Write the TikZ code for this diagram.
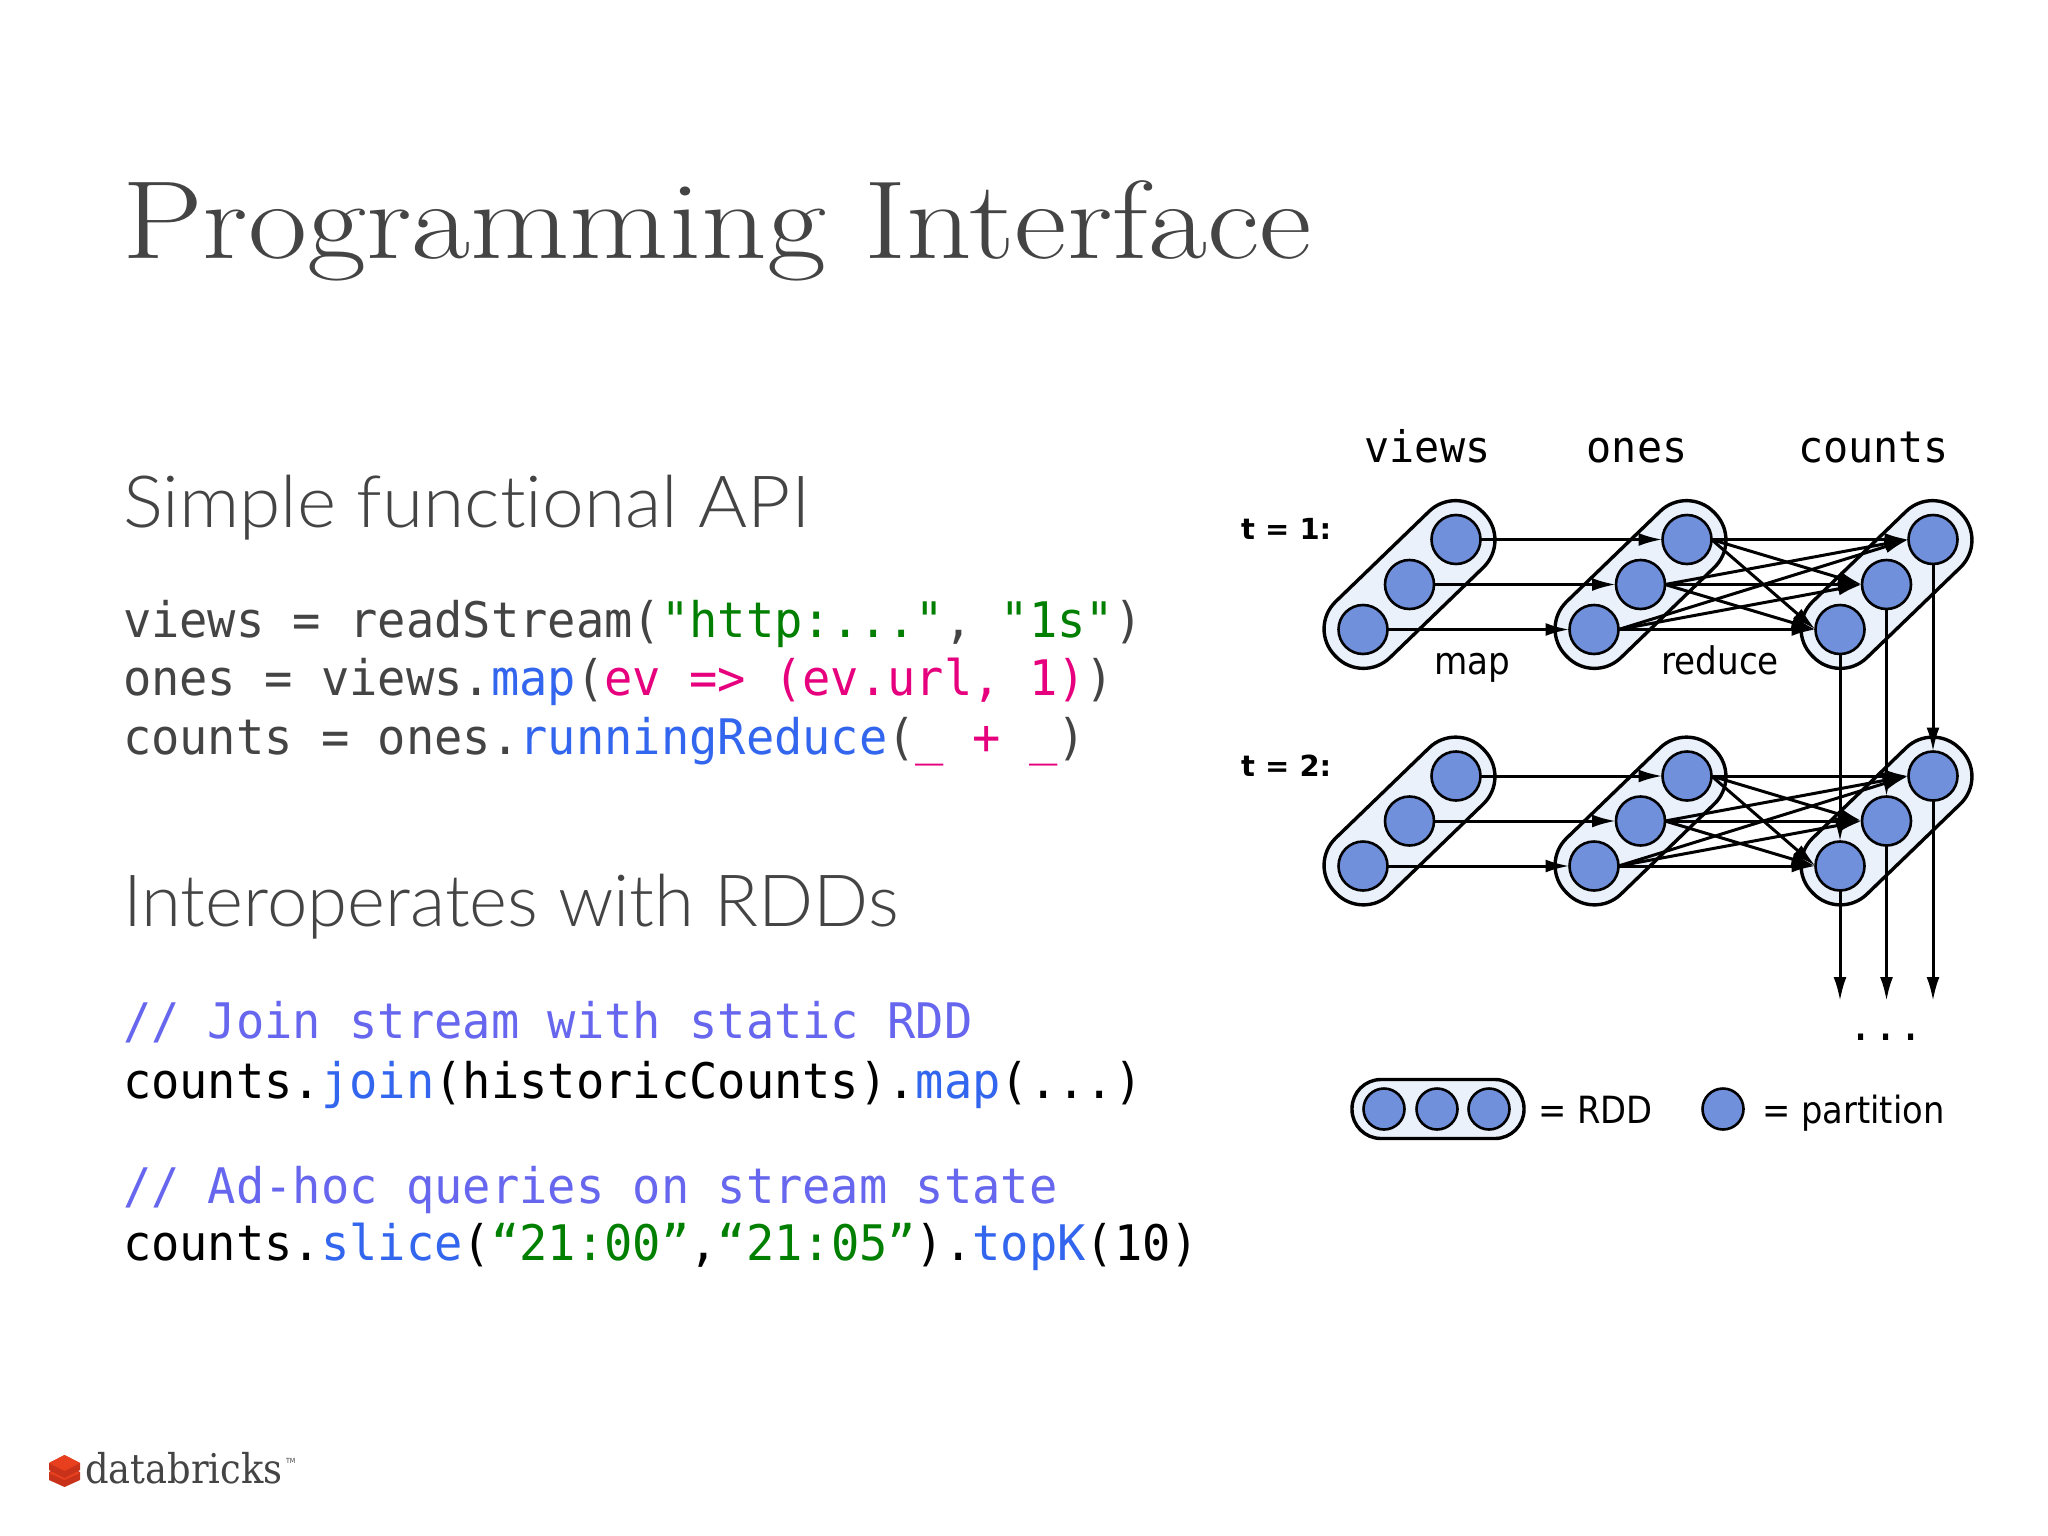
\documentclass[tikz,border=0pt]{standalone}
\usepackage{fontspec}
\usetikzlibrary{arrows.meta,calc}
\setmonofont[FakeStretch=0.96]{DejaVu Sans Mono}
\newfontfamily\headf[Ligatures=NoCommon,FakeStretch=1.02]{Lato Light}
\newfontfamily\dvs[FakeStretch=0.9]{DejaVu Sans}
\newfontfamily\dvsb{DejaVu Sans Bold}
\newfontfamily\logof[FakeStretch=0.9]{DejaVu Serif}
\definecolor{txt}{HTML}{444444}
\definecolor{cgreen}{HTML}{007F00}
\definecolor{cpink}{HTML}{E6007E}
\definecolor{cblue}{HTML}{3366EE}
\definecolor{ccomm}{HTML}{6666EE}
\definecolor{part}{HTML}{7090DC}
\definecolor{pillf}{HTML}{EAF1FA}
\definecolor{brickt}{HTML}{E8401F}
\definecolor{brickd}{HTML}{C8321A}
\newcommand{\fs}[1]{\fontsize{#1}{#1}\selectfont}
\newcommand{\grn}[1]{\textcolor{cgreen}{#1}}
\newcommand{\pnk}[1]{\textcolor{cpink}{#1}}
\newcommand{\blu}[1]{\textcolor{cblue}{#1}}
\tikzset{
  x=1pt,y=-1pt,
  txtnode/.style={anchor=base west,inner sep=0,outer sep=0,text=txt},
  titlenode/.style={txtnode,font=\rmfamily\fs{111}},
  headnode/.style={txtnode,font=\headf\fs{72}},
  codenode/.style={txtnode,font=\ttfamily\fs{49}},
  blacknode/.style={codenode,text=black},
  commnode/.style={codenode,text=ccomm},
  collabel/.style={anchor=base,inner sep=0,text=black,font=\ttfamily\fs{43.5}},
  oplabel/.style={anchor=base,inner sep=0,text=black,font=\dvs\fs{38}},
  tlabel/.style={anchor=base west,inner sep=0,text=black,font=\dvsb\fs{29}},
  legendlabel/.style={anchor=base west,inner sep=0,text=black,font=\dvs\fs{37.5}},
  partn/.style={circle,draw=black,line width=2.6pt,fill=part,minimum size=49pt,inner sep=0,outer sep=0},
  smallpart/.style={partn,minimum size=41pt},
  pilln/.style={rectangle,draw=black,line width=3.4pt,fill=pillf,rounded corners=38pt,minimum width=206pt,minimum height=78pt,rotate=44,inner sep=0},
  legpill/.style={rectangle,draw=black,line width=3.4pt,fill=pillf,rounded corners=29pt,minimum width=172pt,minimum height=59pt,inner sep=0},
  flow/.style={line width=3pt,-{Latex[length=24pt,width=13pt]}},
}
\begin{document}
\begin{tikzpicture}
\useasboundingbox (0,0) rectangle (2048,1536);
\fill[white] (0,0) rectangle (2048,1536);
\node[titlenode] (title) at (122,258) {\scalebox{1.158}[1]{Programming Interface}};
\node[headnode] (h1) at (123,527) {\scalebox{1.02}[1]{Simple functional API}};
\node[headnode] (h2) at (123,926) {\scalebox{0.988}[1]{Interoperates with RDDs}};
\node[codenode] (c1) at (123,637.5) {views = readStream(\grn{"http:..."}, \grn{"1s"})};
\node[codenode] (c2) at (123,695.5) {ones = views.\blu{map}(\pnk{ev => (ev.url, 1)})};
\node[codenode] (c3) at (123,754.5) {counts = ones.\blu{runningReduce}(\pnk{\_ + \_})};
\node[commnode] (c4) at (123,1038.5) {// Join stream with static RDD};
\node[blacknode] (c5) at (123,1098.5) {counts.\blu{join}(historicCounts).\blu{map}(...)};
\node[commnode] (c6) at (123,1203) {// Ad-hoc queries on stream state};
\node[blacknode] (c7) at (123,1260.5) {counts.\blu{slice}(\grn{“21:00”},\grn{“21:05”}).\blu{topK}(10)};
% column labels
\node[collabel] (lv) at (1427.5,462) {views};
\node[collabel] (lo) at (1637,462) {ones};
\node[collabel] (lc) at (1873.5,462) {counts};
\node[tlabel] (t1) at (1241,539) {t = 1:};
\node[tlabel] (t2) at (1241,776) {t = 2:};
\node[oplabel] (lm) at (1472,674) {map};
\node[oplabel] (lr) at (1720,674) {reduce};
% pills
\foreach \col/\cx in {v/1409.5,o/1640.5,c/1886.5}{
  \foreach \row/\cy in {a/584.5,b/821}{
    \node[pilln] (pill\col\row) at (\cx,\cy) {};
  }
}
% partitions
\foreach \col/\cx in {v/1409.5,o/1640.5,c/1886.5}{
  \foreach \row/\cy in {a/584.5,b/821}{
    \node[partn] (\col\row1) at (\cx-46.5,\cy+45) {};
    \node[partn] (\col\row2) at (\cx,\cy) {};
    \node[partn] (\col\row3) at (\cx+46.5,\cy-45) {};
  }
}
% arrows
\foreach \row in {a,b}{
  \foreach \i in {1,2,3}{
    \draw[flow] (v\row\i.east) -- (o\row\i.west);
    \foreach \j in {1,2,3}{
      \draw[flow] (o\row\i.east) -- (c\row\j.west);
    }
  }
}
\coordinate (e1) at (1840,1001);
\coordinate (e2) at (1886.5,1001);
\coordinate (e3) at (1933,1001);
\foreach \i in {1,2,3}{
  \draw[flow] (ca\i.south) -- (cb\i.north);
  \draw[flow] (cb\i.south) -- (e\i);
}
\node[collabel] (dots) at (1886,1040) {...};
% legend
\node[legpill] (legp) at (1438,1109) {};
\node[smallpart] (l1) at (1384,1109) {};
\node[smallpart] (l2) at (1437,1109) {};
\node[smallpart] (l3) at (1489,1109) {};
\node[legendlabel] (lrdd) at (1538,1123) {= RDD};
\node[smallpart] (l4) at (1723,1109) {};
\node[legendlabel] (lpart) at (1762,1123) {= partition};
% logo
\fill[brickd] (49,1472)--(64.5,1465)--(80,1472)--(80,1480)--(64.5,1487)--(49,1480)--cycle;
\fill[brickt] (49,1473)--(64.5,1480)--(80,1473)--(64.5,1466)--cycle;
\fill[brickd] (49,1463)--(64.5,1455)--(80,1463)--(80,1470)--(64.5,1478)--(49,1470)--cycle;
\fill[brickt] (49,1463)--(64.5,1471)--(80,1463)--(64.5,1455)--cycle;
\node[txtnode,font=\logof\fs{41}] (logo) at (85,1483) {databricks};
\node[txtnode,font=\dvs\fs{7}] (tm) at (286,1463) {TM};
\end{tikzpicture}
\end{document}
